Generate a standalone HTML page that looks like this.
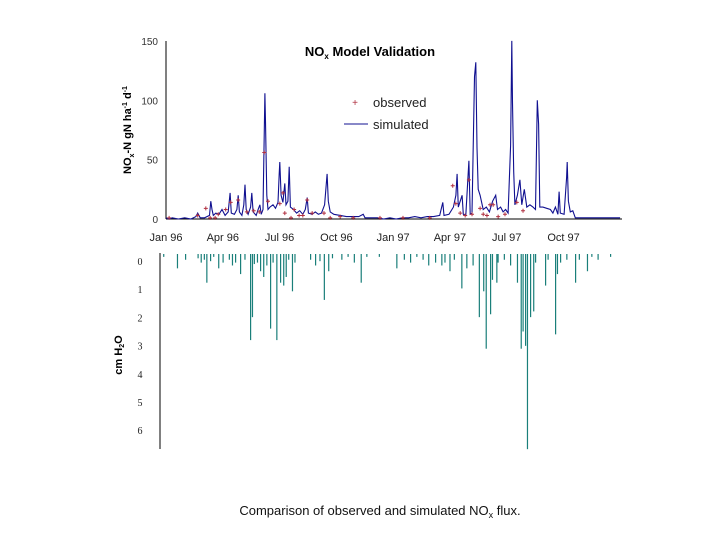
<!DOCTYPE html>
<html><head><meta charset="utf-8"><style>
body{margin:0;background:#fff;}
svg{display:block;font-family:"Liberation Sans",sans-serif;}
</style></head><body>
<svg id="c" width="720" height="540" viewBox="0 0 720 540">
<g id="topg"></g>
<g id="botg"></g>
<text x="370" y="56" text-anchor="middle" font-size="13" font-weight="bold">NO<tspan font-size="8" dy="3">x</tspan><tspan dy="-3"> Model Validation</tspan></text>
<text transform="translate(131,130) rotate(-90)" text-anchor="middle" font-size="11" font-weight="bold">NO<tspan font-size="7" dy="3">x</tspan><tspan dy="-3">-N gN ha</tspan><tspan font-size="7" dy="-4">-1</tspan><tspan dy="4"> d</tspan><tspan font-size="7" dy="-4">-1</tspan></text>
<g>
<text x="355" y="106" text-anchor="middle" font-size="10" fill="#b03040">+</text>
<text x="373" y="107" font-size="13" fill="#222">observed</text>
<line x1="344" y1="124" x2="368" y2="124" stroke="#101090" stroke-width="1"/>
<text x="373" y="129" font-size="13" fill="#222">simulated</text>
</g>
<text transform="translate(122,355) rotate(-90)" text-anchor="middle" font-size="11" font-weight="bold">cm H<tspan font-size="7" dy="2">2</tspan><tspan dy="-2">O</tspan></text>
<text x="380" y="515" text-anchor="middle" font-size="13" fill="#111">Comparison of observed and simulated NO<tspan font-size="9" dy="3">x</tspan><tspan dy="-3"> flux.</tspan></text>
</svg>
<script>
const simDays=[0,5,10,20,30,40,48,51,55,62,70,72,74,76,80,85,90,95,100,103,105,110,114,116,118,122,125,127,129,132,136,138,140,145,148,151,153,156,158,159,160,162,164,167,172,176,180,182,183,185,188,191,193,196,198,200,205,210,215,220,224,227,229,235,240,245,250,255,259,261,264,270,280,290,300,310,317,320,330,340,350,360,370,380,390,400,410,420,430,440,445,447,455,462,466,468,470,476,478,482,487,489,492,496,498,500,502,505,510,515,520,525,530,533,538,542,546,550,554,556,557,559,561,565,569,572,576,580,585,590,594,597,599,601,606,612,618,622,626,630,632,634,640,644,645,647,650,654,658,670,690,710,730];
const simVals=[1,0,1,0,1,0,2,5,1,1,3,15,8,3,5,4,8,3,6,22,5,4,8,20,6,3,12,29,8,4,10,22,6,3,8,12,4,8,75,106,82,20,8,10,12,9,14,38,48,20,14,30,12,15,44,10,8,5,7,4,8,18,5,4,6,4,5,12,38,15,6,4,3,2,2,2,4,1,1,1,0,1,0,1,1,2,1,2,2,3,14,3,4,10,20,38,10,20,4,3,49,4,5,120,132,60,25,20,8,10,6,15,20,8,10,6,8,5,62,150,98,40,12,20,33,12,25,10,12,10,8,100,80,10,10,9,8,5,10,4,23,5,4,35,48,15,6,7,1,1,1,1,1];
const obsDays=[5,51,64,71,79,84,96,104,116,130,141,150,158,164,183,188,191,201,206,214,220,227,235,254,264,280,301,344,381,424,461,466,473,481,487,492,505,510,516,521,526,534,545,564,574];
const obsVals=[1,3,9,1,1,4,8,14,16,6,7,6,56,15,13,22,5,1,8,3,3,16,5,5,1,2,1,1,1,1,28,13,5,3,33,4,9,4,3,12,12,2,4,14,7];
const rainDays=[27,74,93,128,144,147,160,165,176,186,192,197,201,211,248,262,269,321,378,429,463,482,510,517,521,528,531,538,571,577,580,587,584,592,597,616,632,635,664,683,5,40,60,65,70,80,85,100,110,115,120,135,150,155,170,180,205,215,240,255,275,290,300,310,330,350,390,400,410,420,440,450,455,470,490,500,540,550,560,600,620,640,650,670,690,700,720];
const rainVals=[0.5,1.0,0.5,0.7,3.0,2.2,0.6,0.8,2.6,3.0,1.0,1.1,0.8,1.3,0.4,1.6,0.6,1.0,0.5,0.4,0.6,1.2,2.2,1.3,3.3,2.1,0.9,1.0,1.0,3.3,2.7,6.8,3.2,2.2,2.0,1.1,2.8,0.7,1.0,0.6,0.1,0.2,0.15,0.3,0.2,0.25,0.1,0.3,0.2,0.4,0.3,0.2,0.35,0.3,0.4,0.3,0.2,0.3,0.2,0.25,0.15,0.2,0.1,0.3,0.1,0.1,0.2,0.3,0.1,0.2,0.3,0.4,0.3,0.2,0.5,0.4,0.3,0.2,0.4,0.3,0.2,0.3,0.2,0.2,0.1,0.2,0.1];
const topTicks=[0,50,100,150];
const monthLabels=["Jan 96","Apr 96","Jul 96","Oct 96","Jan 97","Apr 97","Jul 97","Oct 97"];
const rainTicks=[0,1,2,3,4,5,6];

const NS="http://www.w3.org/2000/svg";
function mk(p,t,a){const e=document.createElementNS(NS,t);for(const k in a)e.setAttribute(k,a[k]);p.appendChild(e);return e;}
const xT=d=>166+d*0.622, yT=v=>219-v*1.187;
const xB=d=>160+d*0.625, yB=v=>254+v*28.7;
const gTop=document.getElementById('topg'), gBot=document.getElementById('botg');

let ax=mk(gTop,'line',{x1:166,y1:41,x2:166,y2:219,stroke:'#000'});


ax=mk(gTop,'line',{x1:166,y1:219,x2:622,y2:219,stroke:'#000'});


topTicks.forEach(v=>{const t=mk(gTop,'text',{x:158,y:yT(v)+4,'text-anchor':'end','font-size':10,fill:'#333'});t.textContent=v;

});
monthLabels.forEach((m,i)=>{const t=mk(gTop,'text',{x:xT(i*91.3),y:241,'text-anchor':'middle','font-size':11,fill:'#222'});t.textContent=m;

});
const pts=simDays.map((d,i)=>xT(d).toFixed(1)+','+yT(simVals[i]).toFixed(1)).join(' ');
const pl=mk(gTop,'polyline',{points:pts,fill:'none',stroke:'#101090','stroke-width':1.1});


obsDays.forEach((d,i)=>{const x=xT(d),y=yT(obsVals[i]);
const g=mk(gTop,'path',{d:`M${x-2},${y}H${x+2}M${x},${y-2}V${y+2}`,stroke:'#b03040','stroke-width':1});

});

ax=mk(gBot,'line',{x1:160,y1:253,x2:160,y2:449,stroke:'#000'});


rainTicks.forEach(v=>{const t=mk(gBot,'text',{x:140,y:265+v*28.2,'text-anchor':'middle','font-size':10,'font-family':'Liberation Serif, serif',fill:'#222'});t.textContent=v;

});
rainDays.forEach((d,i)=>{const b=mk(gBot,'rect',{x:xB(d),y:254,width:1.2,height:yB(rainVals[i])-254,fill:'#1a7f7a'});

});
</script>
</body></html>
